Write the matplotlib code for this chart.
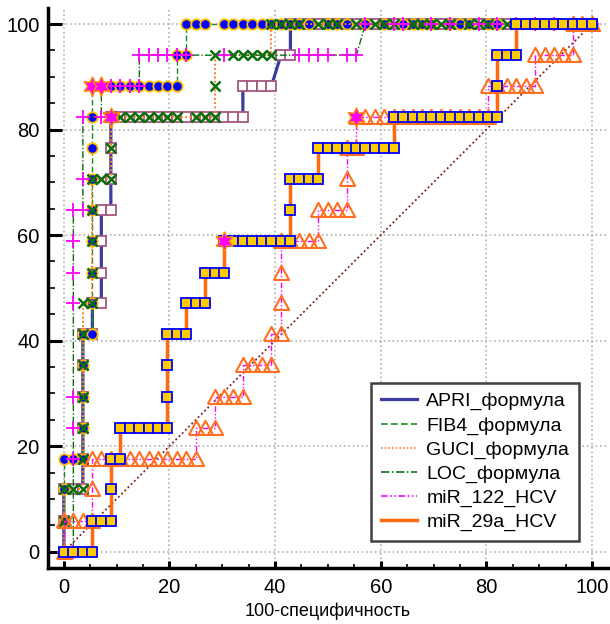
import matplotlib
matplotlib.use('Agg')
import matplotlib.pyplot as plt
from matplotlib.lines import Line2D
from matplotlib.ticker import MultipleLocator

plt.rcParams['font.family'] = ['Liberation Sans', 'DejaVu Sans']

# ---------------- data ----------------
# each curve: list of (sensitivity %, [100-specificity % of marked points on that row])
series_names = ['APRI_формула', 'FIB4_формула', 'GUCI_формула',
                'LOC_формула', 'miR_122_HCV', 'miR_29a_HCV']

apri_rows = [
    (0.0, [0.0]),
    (5.9, [0.0]),
    (11.8, [0.0, 1.8, 3.6]),
    (17.6, [3.6]), (23.5, [3.6]), (29.4, [3.6]), (35.3, [3.6]),
    (41.2, [3.6, 5.4]),
    (47.1, [5.4, 7.1]),
    (52.9, [7.1]), (58.8, [7.1]),
    (64.7, [7.1, 8.9]),
    (70.6, [8.9]), (76.5, [8.9]),
    (82.4, [8.9, 10.7, 12.5, 14.3, 16.1, 17.9, 19.6, 21.4, 23.2, 25.0, 26.8,
            28.6, 30.4, 32.1, 33.9]),
    (88.2, [33.9, 35.7, 37.5, 39.3]),
    (94.1, [41.1, 42.9]),
    (100.0, [42.9, 44.6, 46.4, 48.2, 50.0, 51.8, 53.6, 55.4, 57.1, 58.9, 60.7,
             62.5, 64.3, 66.1, 67.9, 69.6, 71.4, 73.2, 75.0, 76.8, 78.6, 80.4,
             82.1, 83.9, 85.7, 87.5, 89.3, 91.1, 92.9, 94.6, 96.4, 98.2, 100.0]),
]

fib4_rows = [
    (0.0, [0.0]), (5.9, [0.0]), (11.8, [0.0]),
    (17.6, [0.0, 1.8, 3.6]),
    (23.5, [3.6]), (29.4, [3.6]), (35.3, [3.6]),
    (41.2, [3.6, 5.4]),
    (47.1, [5.4]), (52.9, [5.4]), (58.8, [5.4]), (64.7, [5.4]),
    (70.6, [5.4]), (76.5, [5.4]), (82.4, [5.4]),
    (88.2, [5.4, 7.1, 8.9, 10.7, 12.5, 14.3, 16.1, 17.9, 19.6, 21.4]),
    (94.1, [21.4, 23.2]),
    (100.0, [23.2, 25.0, 26.8, 30.4, 32.1, 33.9, 35.7, 37.5, 39.3, 41.1, 42.9,
             44.6, 46.4, 50.0, 51.8, 53.6, 57.1, 60.7, 64.3, 66.1, 67.9, 69.6,
             73.2, 75.0, 76.8, 80.4, 82.1, 85.7, 89.3, 92.9, 96.4, 100.0]),
]

guci_rows = [
    (0.0, [0.0]), (5.9, [0.0]),
    (11.8, [0.0, 1.8, 3.6]),
    (17.6, [3.6]), (23.5, [3.6]), (29.4, [3.6]), (35.3, [3.6]), (41.2, [3.6]),
    (47.1, [3.6, 5.4]),
    (52.9, [5.4]), (58.8, [5.4]), (64.7, [5.4]),
    (70.6, [5.4, 7.1, 8.9]),
    (76.5, [8.9]),
    (82.4, [8.9, 10.7, 12.5, 14.3, 16.1, 17.9, 19.6, 21.4, 25.0, 26.8, 28.6]),
    (88.2, [28.6]),
    (94.1, [28.6, 32.1, 33.9, 35.7, 37.5, 39.3]),
    (100.0, [39.3, 41.1, 42.9, 44.6, 48.2, 50.0, 51.8, 55.4, 58.9, 60.7, 62.5,
             66.1, 67.9, 69.6, 71.4, 73.2, 76.8, 78.6, 80.4, 83.9, 87.5, 91.1,
             94.6, 100.0]),
]

loc_rows = [
    (0.0, [0.0, 1.8]),
    (17.6, [1.8]), (23.5, [1.8]), (29.4, [1.8]),
    (47.1, [1.8]), (52.9, [1.8]), (58.8, [1.8]),
    (64.7, [1.8, 3.6]),
    (70.6, [3.6]),
    (82.4, [3.6, 7.1]),
    (88.2, [7.1, 8.9, 10.7, 12.5, 14.3]),
    (94.1, [14.3, 16.1, 17.9, 19.6, 21.4, 23.2, 30.4, 44.6, 46.4, 48.2, 50.0,
            53.6, 55.4]),
    (100.0, [57.1, 62.5, 64.3, 69.6, 73.2, 78.6, 82.1, 85.7, 89.3, 92.9, 96.4,
             100.0]),
]

mir122_rows = [
    (0.0, [0.0]),
    (5.9, [0.0, 1.8, 3.6, 5.4]),
    (11.8, [5.4]),
    (17.6, [5.4, 7.1, 8.9, 10.7, 12.5, 14.3, 16.1, 17.9, 19.6, 21.4, 23.2, 25.0]),
    (23.5, [25.0, 26.8, 28.6]),
    (29.4, [28.6, 30.4, 32.1, 33.9]),
    (35.3, [33.9, 35.7, 37.5, 39.3]),
    (41.2, [39.3, 41.1]),
    (47.1, [41.1]), (52.9, [41.1]),
    (58.8, [41.1, 42.9, 44.6, 46.4, 48.2]),
    (64.7, [48.2, 50.0, 51.8, 53.6]),
    (70.6, [53.6]),
    (76.5, [53.6, 55.4]),
    (82.4, [55.4, 57.1, 58.9, 60.7, 62.5, 64.3, 66.1, 67.9, 69.6, 71.4, 73.2,
            75.0, 76.8, 78.6, 80.4]),
    (88.2, [80.4, 82.1, 83.9, 85.7, 87.5, 89.3]),
    (94.1, [89.3, 91.1, 92.9, 94.6, 96.4]),
    (100.0, [96.4, 98.2, 100.0]),
]

mir29a_rows = [
    (0.0, [0.0, 1.8, 3.6, 5.4]),
    (5.9, [5.4, 7.1, 8.9]),
    (11.8, [8.9]),
    (17.6, [8.9, 10.7]),
    (23.5, [10.7, 12.5, 14.3, 16.1, 17.9, 19.6]),
    (29.4, [19.6]), (35.3, [19.6]),
    (41.2, [19.6, 21.4, 23.2]),
    (47.1, [23.2, 25.0, 26.8]),
    (52.9, [26.8, 28.6, 30.4]),
    (58.8, [30.4, 32.1, 33.9, 35.7, 37.5, 39.3, 41.1, 42.9]),
    (64.7, [42.9]),
    (70.6, [42.9, 44.6, 46.4, 48.2]),
    (76.5, [48.2, 50.0, 51.8, 53.6, 55.4, 57.1, 58.9, 60.7, 62.5]),
    (82.4, [62.5, 64.3, 66.1, 67.9, 69.6, 71.4, 73.2, 75.0, 76.8, 78.6, 80.4, 82.1]),
    (88.2, [82.1]),
    (94.1, [82.1, 83.9, 85.7]),
    (100.0, [85.7, 87.5, 89.3, 91.1, 92.9, 94.6, 96.4, 98.2, 100.0]),
]

# optimal criterion points (stars)
star_x = [8.9, 5.4, 7.1, 30.4, 55.4]
star_y = [82.4, 88.2, 88.2, 58.8, 82.4]

# ---------------- styles ----------------
open_triangle = [(-1.0, -0.85), (1.0, -0.85), (0.0, 1.0), (-1.0, -0.85)]

styles = [
    dict(color='#3c3c9e', ls='-', lw=2.3, marker='s', ms=7, mfc='white',
         mec='#a5577f', mew=1.3),
    dict(color='#1a8a1a', ls=(0, (4, 2)), lw=1.0, marker='o', ms=7.5,
         mfc='#0000ff', mec='#ffc000', mew=1.3),
    dict(color='#ff7f27', ls=(0, (1, 1.2)), lw=1.4, marker='x', ms=7,
         mfc='none', mec='#0a6e0a', mew=1.8),
    dict(color='#0a6e0a', ls=(0, (5, 1.5, 1, 1.5)), lw=1.0, marker='+', ms=10,
         mfc='none', mec='#ff00ff', mew=1.3),
    dict(color='#ff00ff', ls=(0, (4, 1.5, 1, 1.5, 1, 1.5)), lw=1.0,
         marker=open_triangle, ms=11, mfc='none', mec='#ff7020', mew=1.5),
    dict(color='#ff6a10', ls='-', lw=2.5, marker='s', ms=7, mfc='#ffcc00',
         mec='#0000ff', mew=1.3),
]
all_rows = [apri_rows, fib4_rows, guci_rows, loc_rows, mir122_rows, mir29a_rows]

fig = plt.figure(figsize=(6.1, 6.24), dpi=100)
ax = fig.add_axes([48 / 610, 1 - 568 / 624, 559.8 / 610, 559.8 / 624])

ax.set_xlim(-3.0, 103.0)
ax.set_ylim(-3.1, 103.0)

ax.grid(True, which='major', color='#b0b0b0', ls=':', lw=1.2, zorder=0)
ax.set_axisbelow(True)

# reference diagonal
ax.plot([0, 100], [0, 100], color='#8b1a1a', ls=(0, (1, 1.5)), lw=1.3, zorder=2)

for i, (rows, st) in enumerate(zip(all_rows, styles)):
    xs, ys = [], []
    for yv, xl in rows:
        for xv in xl:
            xs.append(xv)
            ys.append(yv)
    ax.plot(xs, ys, color=st['color'], ls=st['ls'], lw=st['lw'],
            marker=st['marker'], ms=st['ms'], mfc=st['mfc'], mec=st['mec'],
            mew=st['mew'], zorder=3 + i)

ax.plot(star_x, star_y, ls='none', marker=(6, 1, 0), ms=14, mfc='#ff00ff',
        mec='#ff8c00', mew=1.0, zorder=12)

# axes styling
for s in ['top', 'right']:
    ax.spines[s].set_visible(False)
for s in ['left', 'bottom']:
    ax.spines[s].set_linewidth(2.5)

ax.xaxis.set_major_locator(MultipleLocator(20))
ax.yaxis.set_major_locator(MultipleLocator(20))
ax.xaxis.set_minor_locator(MultipleLocator(5))
ax.yaxis.set_minor_locator(MultipleLocator(5))
ax.tick_params(axis='y', which='major', direction='in', length=10, width=2.2,
               labelsize=14.5, pad=6)
ax.tick_params(axis='y', which='minor', direction='in', length=5, width=1.2)
ax.tick_params(axis='x', which='major', direction='in', length=5, width=2.2,
               labelsize=14.5, pad=7)
ax.tick_params(axis='x', which='minor', direction='in', length=3, width=1.2)

ax.set_xlabel('100-специфичность', fontsize=13, labelpad=4)

handles = [Line2D([0], [0], color=st['color'], ls=st['ls'],
                  lw=st['lw'] if st['lw'] > 2 else 1.2) for st in styles]
leg = ax.legend(handles, series_names, loc='lower left',
                bbox_to_anchor=(0.577, 0.048), fontsize=14, frameon=True,
                fancybox=False, handlelength=1.85, handletextpad=0.5,
                labelspacing=0.33, borderpad=0.5, borderaxespad=0.0)
leg.get_frame().set_edgecolor('#404040')
leg.get_frame().set_linewidth(1.8)
leg.get_frame().set_facecolor('white')
leg.get_frame().set_alpha(1.0)
leg.set_zorder(20)

fig.savefig('out.png', dpi=100)
